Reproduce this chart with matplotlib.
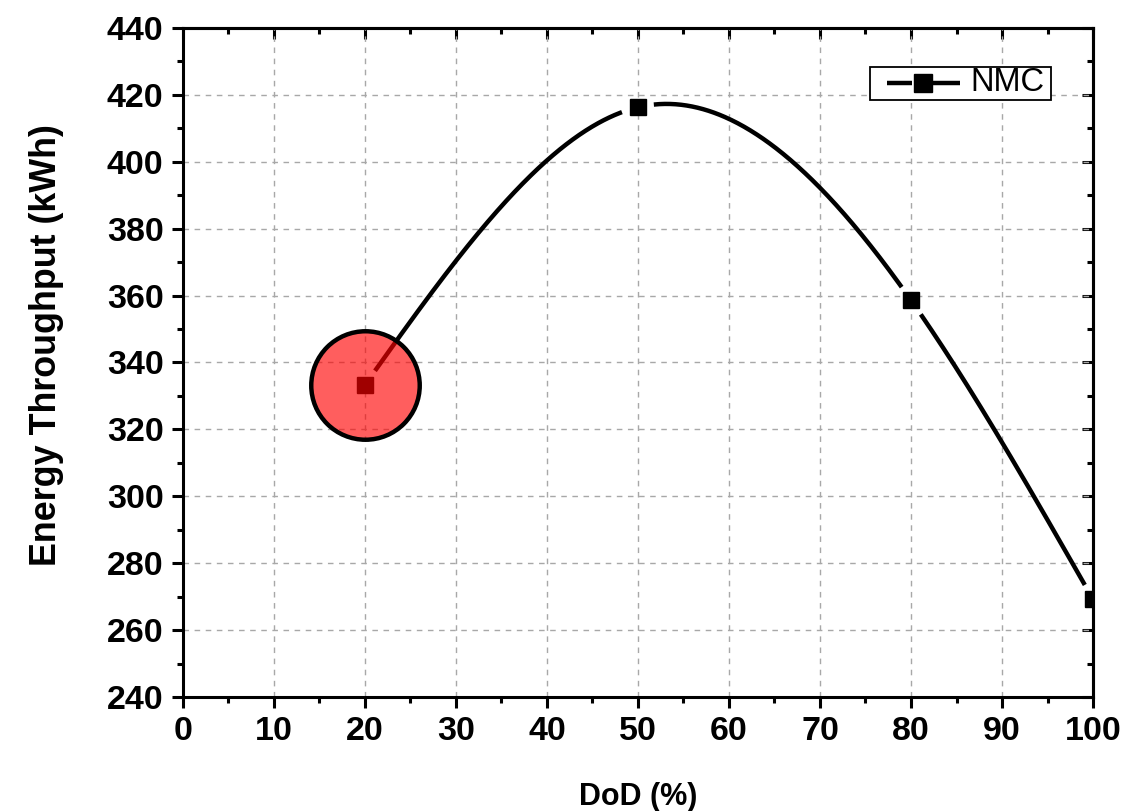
import matplotlib.pyplot as plt
import numpy as np
from matplotlib.lines import Line2D
from matplotlib.patches import Rectangle

plt.rcParams['font.family'] = ['Liberation Sans', 'DejaVu Sans']

# depth of discharge vs. energy throughput for the NMC cell
dod = np.array([20, 50, 80, 100])
throughput = np.array([333.3, 416.3, 358.6, 269.2])
series_name = 'NMC'
highlight_dod = 20
highlight_val = 333.3


def natural_spline(xs, ys, xq):
    n = len(xs)
    h = np.diff(xs).astype(float)
    A = np.zeros((n, n))
    b = np.zeros(n)
    A[0, 0] = A[-1, -1] = 1
    for i in range(1, n - 1):
        A[i, i - 1] = h[i - 1]
        A[i, i] = 2 * (h[i - 1] + h[i])
        A[i, i + 1] = h[i]
        b[i] = 3 * ((ys[i + 1] - ys[i]) / h[i] - (ys[i] - ys[i - 1]) / h[i - 1])
    c = np.linalg.solve(A, b)
    bb = (np.diff(ys) / h) - h * (2 * c[:-1] + c[1:]) / 3
    d = np.diff(c) / (3 * h)
    idx = np.clip(np.searchsorted(xs, xq) - 1, 0, n - 2)
    t = xq - xs[idx]
    return ys[idx] + bb[idx] * t + c[idx] * t ** 2 + d[idx] * t ** 3


fig = plt.figure(figsize=(11.26, 8.11), dpi=100)
ax = fig.add_axes([0.1625, 0.1406, 0.8082, 0.8249])
ax.set_xlim(0, 100)
ax.set_ylim(240, 440)

# smooth connecting curve, broken around each marker
xs = np.linspace(dod[0], dod[-1], 800)
ys = natural_spline(dod.astype(float), throughput, xs)
curve_px = ax.transData.transform(np.column_stack([xs, ys]))
pts_px = ax.transData.transform(np.column_stack([dod, throughput]))
ys_gap = ys.copy()
for p in pts_px:
    dist = np.hypot(curve_px[:, 0] - p[0], curve_px[:, 1] - p[1])
    ys_gap[dist < 16] = np.nan
ax.plot(xs, ys_gap, color='black', lw=3.2, zorder=3, solid_capstyle='butt')
ax.plot(dod, throughput, ls='none', marker='s', ms=11, color='black', zorder=4)

# highlighted point
ax.scatter([highlight_dod], [highlight_val], s=6100, facecolor=(1, 0, 0, 0.63),
           edgecolor='black', linewidth=3.2, zorder=5)

ax.set_xticks(np.arange(0, 101, 10))
ax.set_yticks(np.arange(240, 441, 20))
ax.set_xticks(np.arange(0, 101, 5), minor=True)
ax.set_yticks(np.arange(240, 441, 10), minor=True)
ax.grid(True, which='major', color='#a8a8a8', ls=(0, (4, 4)), lw=1.0)
ax.set_axisbelow(True)

for s in ax.spines.values():
    s.set_linewidth(2.2)
    s.set_zorder(6)

ax.tick_params(which='major', direction='out', length=8, width=2.2, labelsize=24.5,
               pad=6)
ax.tick_params(which='minor', direction='out', length=4.5, width=2.2)
for lab in ax.get_xticklabels() + ax.get_yticklabels():
    lab.set_fontweight('bold')

# mirrored ticks on top and right, pointing inward
top = ax.secondary_xaxis('top')
top.set_xticks(np.arange(0, 101, 10))
top.set_xticks(np.arange(0, 101, 5), minor=True)
top.tick_params(which='major', direction='in', length=8, width=2.2, labeltop=False)
top.tick_params(which='minor', direction='in', length=4.5, width=2.2)
top.spines['top'].set_linewidth(2.2)
right = ax.secondary_yaxis('right')
right.set_yticks(np.arange(240, 441, 20))
right.set_yticks(np.arange(240, 441, 10), minor=True)
right.tick_params(which='major', direction='in', length=8, width=2.2, labelright=False)
right.tick_params(which='minor', direction='in', length=4.5, width=2.2)
right.spines['right'].set_linewidth(2.2)

ax.set_xlabel('DoD (%)', fontsize=22, fontweight='bold', labelpad=25)
ax.set_ylabel('Energy Throughput (kWh)', fontsize=25.8, fontweight='bold')
ax.yaxis.set_label_coords(-0.131, 0.526)

# legend box drawn by hand: line - square - line, then the series name
ta = ax.transAxes
ax.add_patch(Rectangle((0.755, 0.8924), 0.199, 0.0493, transform=ta,
                       facecolor='white', edgecolor='black', lw=1.3, zorder=7,
                       clip_on=False))
leg_y = 0.9178
ax.add_line(Line2D([0.7736, 0.8011], [leg_y, leg_y], transform=ta, color='black',
                   lw=3.2, zorder=8, solid_capstyle='butt'))
ax.add_line(Line2D([0.8242, 0.8538], [leg_y, leg_y], transform=ta, color='black',
                   lw=3.2, zorder=8, solid_capstyle='butt'))
ax.add_line(Line2D([0.8132], [leg_y], transform=ta, ls='none', marker='s', ms=12.5,
                   color='black', zorder=8))
ax.text(0.8648, leg_y, series_name, transform=ta, fontsize=23.5, va='center',
        ha='left', zorder=8)

fig.savefig('out.png', dpi=100)
